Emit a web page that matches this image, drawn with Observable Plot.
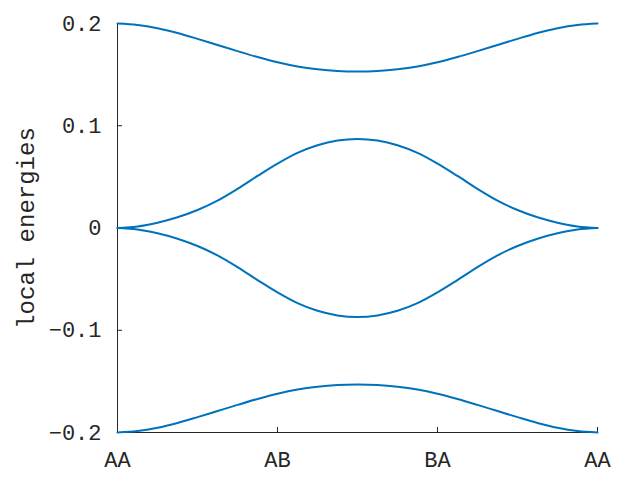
<!DOCTYPE html>
<html>
<head>
<meta charset="utf-8">
<script src="https://cdn.jsdelivr.net/npm/d3@7"></script>
<script src="https://cdn.jsdelivr.net/npm/@observablehq/plot@0.6"></script>
<style>
  html, body { margin: 0; padding: 0; background: #fff; }
  #chart svg { display: block; }
</style>
</head>
<body>
<div id="chart"></div>
<script>
// path positions (AA=0, AB=1, BA=2, AA=3)
const kPath = [0,0.125,0.25,0.375,0.5,0.625,0.75,0.875,1,1.125,1.25,1.375,1.5,1.625,1.75,1.875,2,2.125,2.25,2.375,2.5,2.625,2.75,2.875,3];
const band1 = [0.2000,0.1986,0.1954,0.1907,0.1850,0.1790,0.1730,0.1672,0.1621,0.1580,0.1552,0.1535,0.1530,0.1535,0.1552,0.1580,0.1621,0.1672,0.1730,0.1790,0.1850,0.1907,0.1954,0.1986,0.2000];
const band2 = [0,0.0015,0.0052,0.0105,0.0176,0.0268,0.0383,0.0509,0.0630,0.0735,0.0810,0.0855,0.0870,0.0855,0.0810,0.0735,0.0630,0.0509,0.0383,0.0268,0.0176,0.0105,0.0052,0.0015,0];
const band3 = [0,-0.0015,-0.0052,-0.0105,-0.0176,-0.0268,-0.0383,-0.0509,-0.0630,-0.0735,-0.0810,-0.0855,-0.0870,-0.0855,-0.0810,-0.0735,-0.0630,-0.0509,-0.0383,-0.0268,-0.0176,-0.0105,-0.0052,-0.0015,0];
const band4 = [-0.2000,-0.1986,-0.1954,-0.1907,-0.1850,-0.1790,-0.1730,-0.1672,-0.1621,-0.1580,-0.1552,-0.1535,-0.1530,-0.1535,-0.1552,-0.1580,-0.1621,-0.1672,-0.1730,-0.1790,-0.1850,-0.1907,-0.1954,-0.1986,-0.2000];
const xTicks = [0,1,2,3];
const xTickLabels = ["AA","AB","BA","AA"];
const yTicks = [-0.2,-0.1,0,0.1,0.2];
const yTickLabels = ["\u22120.2","\u22120.1","0","0.1","0.2"];
const yLabel = "local energies";

const bands = [band1, band2, band3, band4];
const rows = bands.flatMap((b, i) => b.map((v, j) => ({band: i, k: kPath[j], e: v})));
const xTickRows = xTicks.map((v, i) => ({v, label: xTickLabels[i]}));
const yTickRows = yTicks.map((v, i) => ({v, label: yTickLabels[i]}));

const color = "#0072BD";
const ink = "#262626";
const font = "'Courier New', Courier, 'Nimbus Mono PS', FreeMono, 'Liberation Mono', monospace";

const chart = Plot.plot({
  width: 640,
  height: 480,
  marginLeft: 117,
  marginRight: 43,
  marginTop: 23,
  marginBottom: 48,
  style: {fontFamily: font, fontSize: "22px", color: ink, background: "#fff"},
  x: {domain: [0, 3], axis: null},
  y: {domain: [-0.2, 0.2], axis: null},
  marks: [
    Plot.ruleX([0], {stroke: ink, strokeWidth: 1}),
    Plot.ruleY([-0.2], {stroke: ink, strokeWidth: 1}),
    Plot.axisX(xTicks, {anchor: "bottom", label: null, tickSize: -5, tickPadding: 23, tickFormat: () => "", stroke: ink}),
    Plot.axisY(yTicks, {anchor: "left", label: null, tickSize: -5, tickPadding: 21, tickFormat: () => "", stroke: ink}),
    Plot.text(xTickRows, {x: "v", text: "label", frameAnchor: "bottom", dy: 27, lineAnchor: "middle", textAnchor: "middle", fontSize: 22, fill: ink}),
    Plot.text(yTickRows, {y: "v", text: "label", frameAnchor: "left", dx: -16, textAnchor: "end", lineAnchor: "middle", fontSize: 22, fill: ink}),
    Plot.line(rows, {x: "k", y: "e", z: "band", stroke: color, strokeWidth: 2, curve: "catmull-rom"}),
    Plot.text([yLabel], {frameAnchor: "left", dx: -91, rotate: -90, textAnchor: "middle", fontSize: 24, fill: ink})
  ]
});
document.getElementById("chart").appendChild(chart);
</script>
</body>
</html>
